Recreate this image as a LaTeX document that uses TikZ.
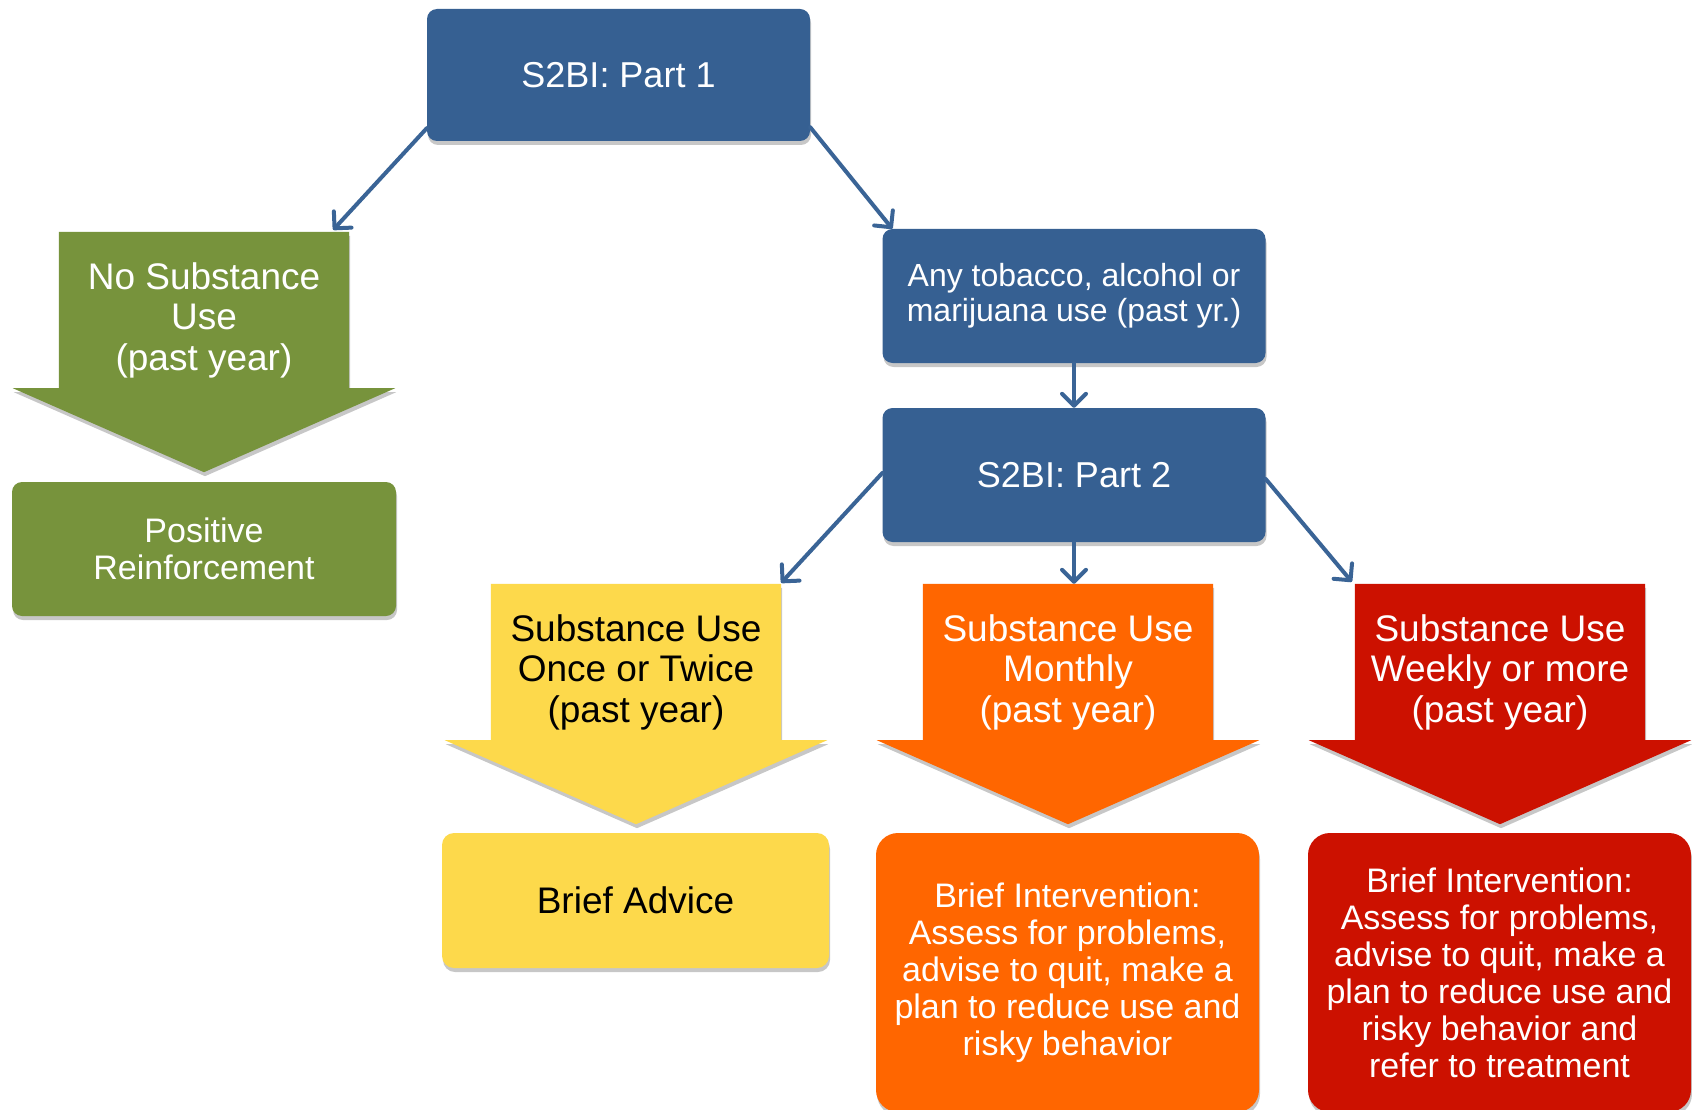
\documentclass[tikz,border=0pt]{standalone}
\usepackage{fontspec}
\setmainfont{Liberation Sans}
\usetikzlibrary{arrows.meta,shadows}
\definecolor{sblue}{HTML}{366092}
\definecolor{lblue}{HTML}{3A6496}
\definecolor{sgreen}{HTML}{77933C}
\definecolor{syellow}{HTML}{FDD94B}
\definecolor{sorange}{HTML}{FF6600}
\definecolor{sred}{HTML}{CC1100}
\tikzset{
  shad/.style={drop shadow={shadow xshift=1pt, shadow yshift=-4pt, opacity=0.22, fill=black}},
  box/.style={rectangle, rounded corners=10pt, inner sep=0pt, align=center, text=white, shad},
  bigbox/.style={rectangle, rounded corners=22pt, inner sep=0pt, align=center, text=white, shad},
  abody/.style={rectangle, inner sep=0pt, minimum width=290pt, minimum height=156pt},
  atext/.style={align=center, inner sep=0pt, font=\fontsize{37}{40.5}\selectfont},
  conn/.style={draw=lblue, line width=4pt, line cap=round, -{Straight Barb[length=12pt,width=24pt,line cap=round,line join=round]}},
}
\newcommand{\arrowshape}[2]{%
  \fill[#2, shad] (#1.north west) -- (#1.north east) -- (#1.south east) -- ([xshift=46pt]#1.south east)
    -- ([yshift=-84pt]#1.south) -- ([xshift=-46pt]#1.south west) -- (#1.south west) -- cycle;}
\begin{document}
\begin{tikzpicture}[x=1pt,y=-1pt]
\useasboundingbox (0,0) rectangle (1692,1110);
\fill[white] (0,0) rectangle (1692,1110);

% top boxes
\node[box, fill=sblue, minimum width=383pt, minimum height=132pt,
  font=\fontsize{36}{40}\selectfont] (p1) at (618.5,75) {S2BI: Part 1};
\node[box, fill=sblue, minimum width=383pt, minimum height=134pt,
  font=\fontsize{32}{35}\selectfont] (tob) at (1074,296) {Any tobacco, alcohol or\\marijuana use (past yr.)};
\node[box, fill=sblue, minimum width=383pt, minimum height=134pt,
  font=\fontsize{36}{40}\selectfont] (p2) at (1074,475) {S2BI: Part 2};

% arrow bodies
\node[abody] (ga) at (204,310) {};
\node[abody] (ya) at (636,662) {};
\node[abody] (oa) at (1068,662) {};
\node[abody] (ra) at (1500,662) {};
\arrowshape{ga}{sgreen}
\arrowshape{ya}{syellow}
\arrowshape{oa}{sorange}
\arrowshape{ra}{sred}
\node[atext, text=white] (gt) at (204,320) {No Substance\\Use\\(past year)};
\node[atext, text=black] (yt) at (636,672) {Substance Use\\Once or Twice\\(past year)};
\node[atext, text=white] (ot) at (1068,672) {Substance Use\\Monthly\\(past year)};
\node[atext, text=white] (rt) at (1500,672) {Substance Use\\Weekly or more\\(past year)};

% result boxes
\node[box, fill=sgreen, minimum width=384pt, minimum height=134pt,
  font=\fontsize{34}{37}\selectfont] (pos) at (204,549) {Positive\\Reinforcement};
\node[box, rounded corners=12pt, fill=syellow, text=black, minimum width=387pt, minimum height=135pt,
  font=\fontsize{37}{40}\selectfont] (ba) at (635.5,900.5) {Brief Advice};
\node[bigbox, fill=sorange, minimum width=383pt, minimum height=279pt,
  font=\fontsize{34}{37}\selectfont] (ob) at (1067.5,972.5)
  {Brief Intervention:\\Assess for problems,\\advise to quit, make a\\plan to reduce use and\\risky behavior};
\node[bigbox, fill=sred, minimum width=383pt, minimum height=279pt,
  font=\fontsize{34}{37}\selectfont] (rb) at (1499.5,972.5)
  {Brief Intervention:\\Assess for problems,\\advise to quit, make a\\plan to reduce use and\\risky behavior and\\refer to treatment};

% connectors
\draw[conn] ([yshift=13pt]p1.south west) -- ([xshift=-16pt,yshift=2pt]ga.north east);
\draw[conn] ([yshift=14pt]p1.south east) -- ([xshift=10pt]tob.north west);
\draw[conn] (tob.south) -- (p2.north);
\draw[conn] ([yshift=2pt]p2.west) -- ([yshift=1pt]ya.north east);
\draw[conn] (p2.south) -- (p2.south |- oa.north);
\draw[conn] ([yshift=-4pt]p2.east) -- ([xshift=-3pt,yshift=2pt]ra.north west);
\end{tikzpicture}
\end{document}
